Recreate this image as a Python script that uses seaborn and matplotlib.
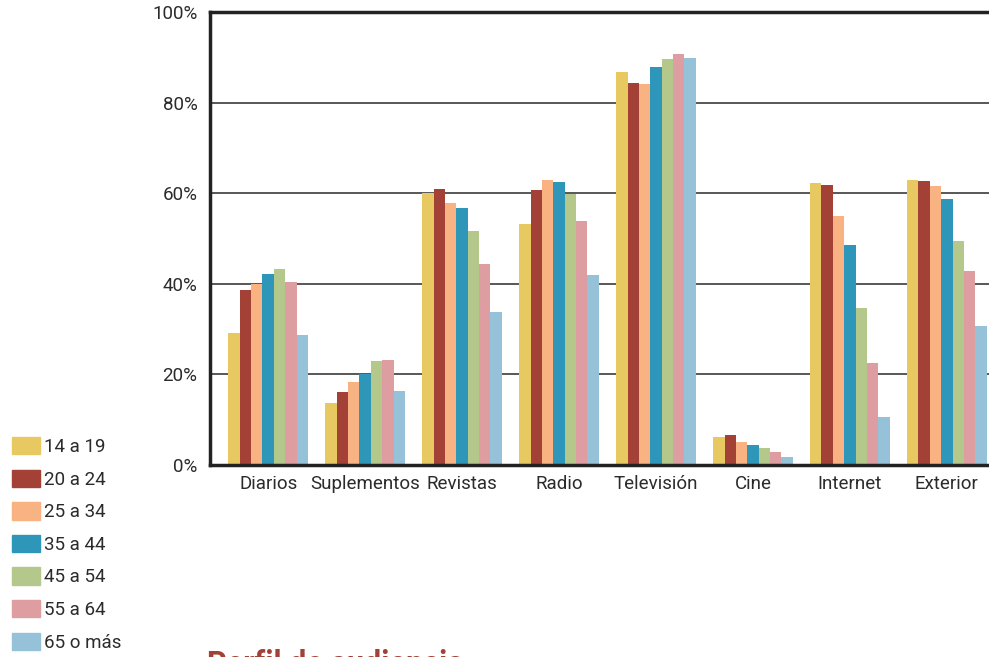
import pandas as pd
import numpy as np
import matplotlib
matplotlib.use("Agg")
import matplotlib.pyplot as plt
import seaborn as sns

# Medios y grupos de edad
medios = ["Diarios", "Suplementos", "Revistas", "Radio", "Televisión", "Cine", "Internet", "Exterior"]
edades = ["14 a 19", "20 a 24", "25 a 34", "35 a 44", "45 a 54", "55 a 64", "65 o más"]

# Porcentaje por grupo de edad
e14_19 = [29.1, 13.7, 60.0, 53.2, 86.8, 6.2, 62.2, 63.0]
e20_24 = [38.6, 16.2, 60.9, 60.7, 84.3, 6.7, 61.7, 62.8]
e25_34 = [40.0, 18.3, 57.8, 63.0, 84.1, 5.1, 54.9, 61.5]
e35_44 = [42.1, 20.0, 56.7, 62.4, 87.9, 4.4, 48.5, 58.7]
e45_54 = [43.2, 22.9, 51.6, 59.8, 89.6, 3.7, 34.6, 49.5]
e55_64 = [40.4, 23.1, 44.3, 53.8, 90.7, 2.8, 22.5, 42.8]
e65_mas = [28.7, 16.4, 33.8, 41.9, 89.9, 1.7, 10.5, 30.6]

colores = ["#E8C961", "#A34136", "#F9B281", "#2E96B8", "#B4C88B", "#DD9DA1", "#95C2D9"]

series = [e14_19, e20_24, e25_34, e35_44, e45_54, e55_64, e65_mas]
rows = []
for edad, vals in zip(edades, series):
    for medio, v in zip(medios, vals):
        rows.append({"medio": medio, "edad": edad, "valor": v})
df = pd.DataFrame(rows)

sns.set_style("white")
plt.rcParams['font.family'] = ['Roboto', 'DejaVu Sans']

fig = plt.figure(figsize=(9.89, 6.57), dpi=100)
ax = fig.add_axes([210 / 989, 1 - 465 / 657, (1005 - 210) / 989, (465 - 12) / 657])

sns.barplot(data=df, x="medio", y="valor", hue="edad", order=medios, hue_order=edades,
            palette=colores, width=0.82, gap=0, saturation=1, errorbar=None,
            linewidth=0, ax=ax, zorder=3)

ax.set_xlim(-0.6, 7.6)
ax.set_ylim(0, 100)
ax.set_yticks([0, 20, 40, 60, 80, 100])
ax.set_yticklabels(["0%", "20%", "40%", "60%", "80%", "100%"])
ax.set_xlabel("")
ax.set_ylabel("")
ax.grid(axis="y", color="#4a4a4a", linewidth=1.3, zorder=1)
ax.set_axisbelow(True)
ax.tick_params(axis="both", length=0, labelsize=13.5, labelcolor="#2b2b2b")
ax.tick_params(axis="x", pad=7)
ax.tick_params(axis="y", pad=9)

for side in ["top", "left", "bottom"]:
    ax.spines[side].set_color("#222222")
    ax.spines[side].set_linewidth(2.5)
    ax.spines[side].set_zorder(5)
ax.spines["right"].set_visible(False)

# Leyenda a la izquierda
ax.legend_.remove()
handles = [plt.Rectangle((0, 0), 1, 1, color=c) for c in colores]
fig.legend(handles, edades, loc="upper left", bbox_to_anchor=(12 / 989, 1 - 437 / 657),
           frameon=False, fontsize=13.5, labelspacing=0.72, handlelength=1.5,
           handleheight=1.05, handletextpad=0.2, borderaxespad=0, borderpad=0,
           labelcolor="#2b2b2b")

# Titulo inferior cortado
fig.text(207 / 989, 1 - 649 / 657, "Perfil de audiencia", color="#A34136",
         fontsize=22, fontweight="bold", va="top", ha="left",
         family=["Roboto", "DejaVu Sans"])

fig.savefig("out.png", dpi=100)
